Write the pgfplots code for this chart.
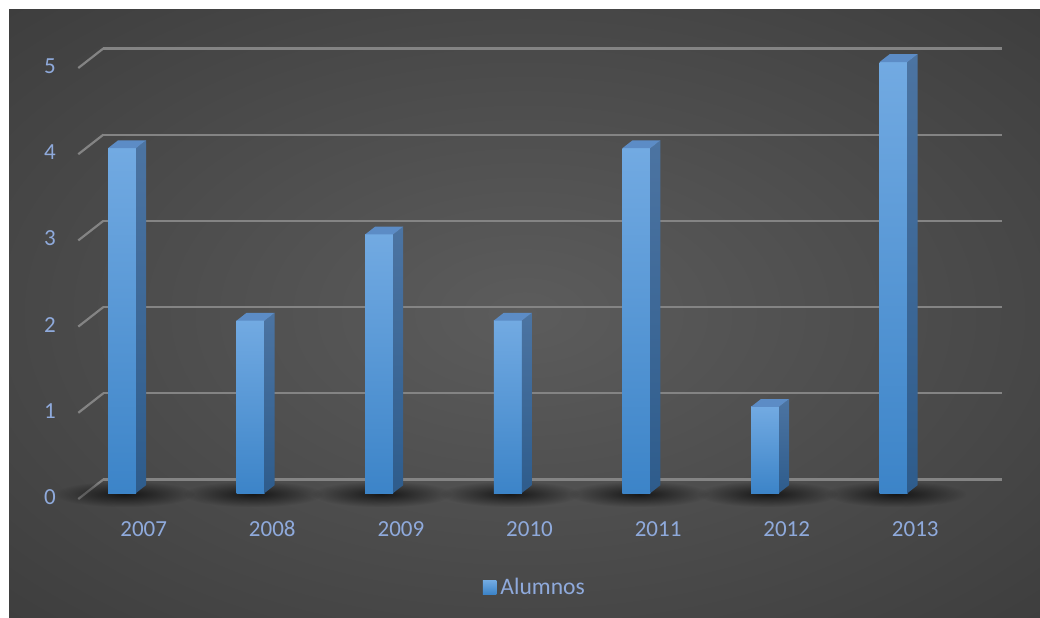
\documentclass[border=0pt]{standalone}
\usepackage{pgfplots}
\pgfplotsset{compat=1.18}
\usepackage{pgfplotstable}
\usepackage{fontspec}
\setmainfont{Carlito}
\usetikzlibrary{fadings}
\definecolor{bgmid}{RGB}{92,92,92}
\definecolor{bgedge}{RGB}{32,32,32}
\definecolor{gridc}{RGB}{132,132,132}
\definecolor{tickc}{RGB}{143,170,220}
\definecolor{frontT}{RGB}{114,170,226}
\definecolor{frontB}{RGB}{60,132,200}
\definecolor{sideT}{RGB}{76,116,162}
\definecolor{sideB}{RGB}{46,92,140}
\definecolor{topc}{RGB}{92,140,198}
\pgfdeclareradialshading{bgshade}{\pgfpoint{0bp}{0bp}}{color(0bp)=(bgmid); color(71bp)=(bgedge)}
\pgfdeclareplotmark{diag}{\pgfpathmoveto{\pgfpointorigin}\pgfpathlineto{\pgfpoint{12.5pt}{9.75pt}}\pgfusepathqstroke}
\pgfdeclareplotmark{nothing}{}
\tikzfading[name=shadowfade, inner color=transparent!30, outer color=transparent!100]

\pgfplotstableread{
x v
0 4
1 2
2 3
3 2
4 4
5 1
6 5
}\alumnos

\begin{document}
\begin{tikzpicture}
\path[use as bounding box] (0,0) rectangle (520pt,308.5pt);
\fill[white] (0,0) rectangle (520pt,308.5pt);
\shade[shading=bgshade] (4.5pt,0pt) rectangle (520pt,303.5pt);
\begin{axis}[
  at={(39.15pt,59pt)}, anchor=south west,
  x=64.3pt, y=43.1pt,
  xmin=-0.2815, xmax=6.709, ymin=0, ymax=5,
  axis line style={draw=none},
  tick style={draw=none},
  major tick length=0pt,
  ymajorgrids,
  major grid style={gridc, line width=1.1pt, xshift=12.5pt, yshift=9.75pt},
  ytick={0,1,2,3,4,5},
  xtick={0,1,2,3,4,5,6},
  xticklabels={2007,2008,2009,2010,2011,2012,2013},
  ticklabel style={font=\fontsize{11.5}{13}\selectfont, text=tickc},
  /pgf/number format/assume math mode=true,
  yticklabel style={anchor=east, inner sep=0pt, xshift=-11pt, yshift=1pt},
  xticklabel style={anchor=base, inner sep=0pt, xshift=14.6pt, yshift=-18.5pt},
  clip=false,
  legend style={at={(0.509,-0.205)}, anchor=center, draw=none, fill=none,
    text=tickc, font=\fontsize{11.8}{13}\selectfont, inner sep=0pt},
  legend image code/.code={\shade[draw=none, top color=frontT, bottom color=frontB] (0pt,-3.4pt) rectangle (6.8pt,3.4pt);},
]
\addplot[only marks, mark=diag, mark options={gridc, line width=1.1pt}, forget plot]
  coordinates {(-0.2815,0) (-0.2815,1) (-0.2815,2) (-0.2815,3) (-0.2815,4) (-0.2815,5)};
\addplot[scatter, only marks, mark=nothing, draw=none,
  visualization depends on={\thisrow{v} \as \val},
  scatter/@pre marker code/.code={%
    \pgfmathsetmacro{\b}{3-\val*43.1}%
    \pgfmathsetmacro{\bb}{\b+3.9}%
    \pgfmathsetmacro{\sb}{\b-0.5}%
    \fill[draw=none, black, path fading=shadowfade] (-30pt,\sb pt-6.5pt) rectangle (40pt,\sb pt+6.5pt);
    \shade[draw=none, top color=frontT, bottom color=frontB] (-3.25pt,\b pt) rectangle (10.75pt,3pt);
    \shade[draw=none, top color=sideT, bottom color=sideB] (10.75pt,\b pt) -- (15.75pt,\bb pt) -- (15.75pt,6.9pt) -- (10.75pt,3pt) -- cycle;
    \fill[draw=none, topc] (-3.25pt,3pt) -- (10.75pt,3pt) -- (15.75pt,6.9pt) -- (1.75pt,6.9pt) -- cycle;
  },
  scatter/@post marker code/.code={},
] table[x=x, y=v] {\alumnos};
\addlegendentry{Alumnos}
\end{axis}
\end{tikzpicture}
\end{document}
